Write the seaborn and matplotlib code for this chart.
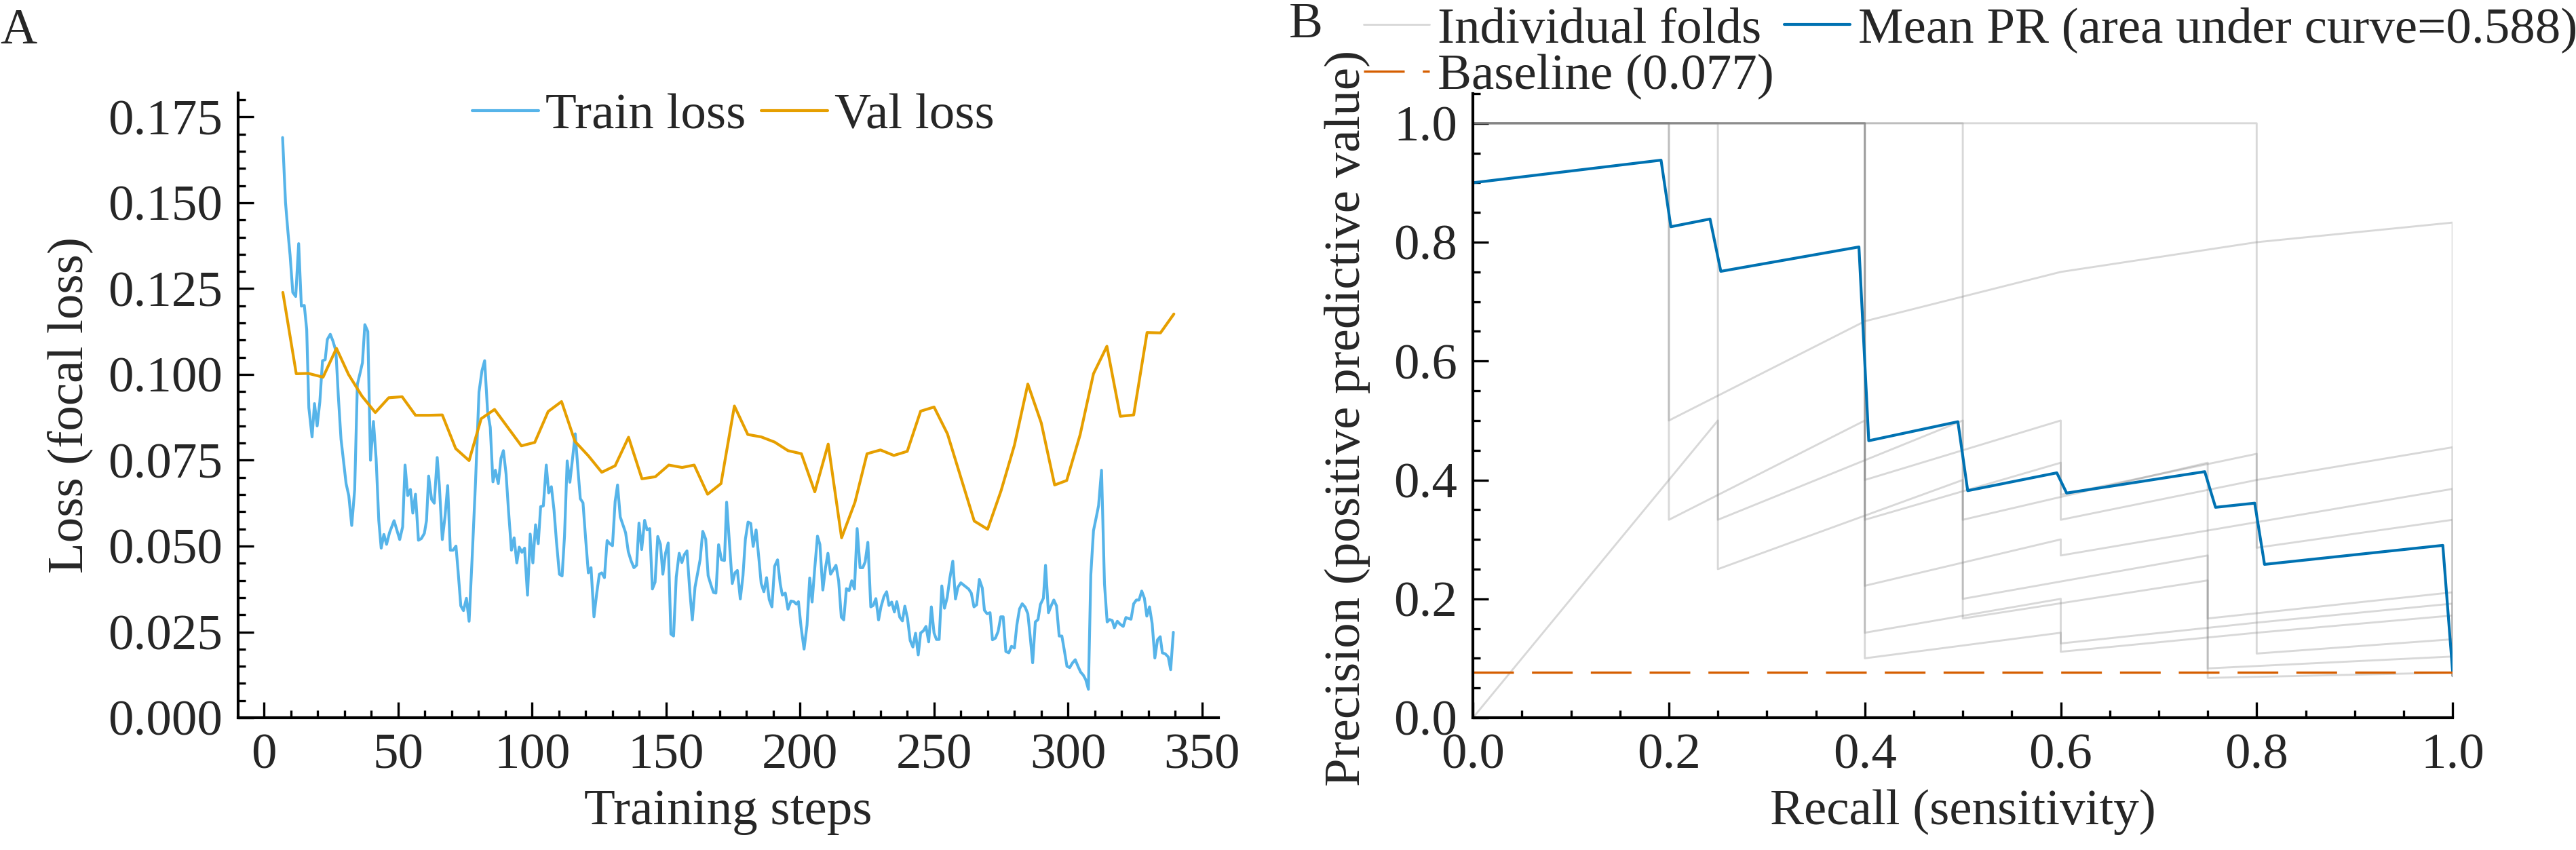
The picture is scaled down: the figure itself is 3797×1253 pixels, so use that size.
import matplotlib
matplotlib.use('Agg')
import matplotlib.pyplot as plt
from matplotlib.lines import Line2D
from matplotlib.ticker import MultipleLocator, FormatStrFormatter
import pandas as pd
import seaborn as sns

# Values
train_steps = [
    6.9, 8.0, 8.9, 9.7, 10.7, 11.8, 12.9, 13.9, 15.0, 15.9, 16.7, 17.9, 18.8, 19.8, 20.8,
    21.8, 22.8, 23.6, 24.7, 25.7, 26.8, 27.7, 28.7, 29.7, 30.6, 31.6, 32.7, 33.8, 34.8, 35.7,
    36.7, 37.6, 38.7, 39.7, 40.8, 41.8, 42.8, 43.7, 44.7, 45.7, 46.8, 48.5, 49.6, 50.6, 51.7,
    52.6, 53.6, 54.6, 55.5, 56.5, 57.6, 58.7, 59.8, 60.6, 61.4, 62.5, 63.5, 64.6, 65.4, 66.5,
    67.5, 68.5, 69.5, 70.5, 71.6, 72.4, 73.4, 74.4, 75.5, 76.5, 77.6, 78.9, 80.2, 81.3, 82.3,
    83.4, 84.4, 85.4, 86.3, 87.4, 88.4, 89.3, 90.3, 91.2, 92.3, 93.3, 94.3, 95.2, 96.2, 97.2,
    98.3, 99.3, 100.3, 101.3, 102.3, 103.2, 104.2, 105.3, 106.2, 107.2, 108.2, 109.1, 110.2,
    111.2, 112.1, 113.1, 114.1, 115.1, 116.1, 117.1, 118.0, 119.0, 120.0, 121.0, 122.0, 123.1,
    124.1, 125.1, 126.0, 127.0, 128.0, 129.0, 130.0, 131.0, 131.9, 132.9, 133.9, 134.9, 135.9,
    136.9, 138.0, 139.0, 139.9, 140.9, 142.0, 142.9, 143.9, 144.9, 145.9, 146.9, 147.9, 148.8,
    149.8, 150.8, 151.8, 152.8, 153.8, 154.9, 155.9, 156.8, 157.8, 158.9, 159.8, 160.8, 161.8,
    162.7, 163.7, 164.8, 165.7, 166.7, 167.7, 168.6, 169.6, 170.7, 171.8, 172.6, 173.7, 174.7,
    175.7, 176.6, 177.7, 178.7, 179.6, 180.6, 181.6, 182.5, 183.6, 184.6, 185.5, 186.5, 187.5,
    188.5, 189.5, 190.5, 191.6, 192.6, 193.4, 194.5, 195.5, 196.6, 197.7, 198.6, 199.4, 200.4,
    201.5, 202.6, 203.6, 204.5, 205.5, 206.5, 207.4, 208.5, 209.5, 210.4, 211.4, 212.4, 213.4,
    214.4, 215.4, 216.3, 217.3, 218.3, 219.3, 220.3, 221.3, 222.4, 223.4, 224.3, 225.3, 226.4,
    227.3, 228.3, 229.3, 230.2, 231.3, 232.3, 233.2, 234.2, 235.2, 236.1, 237.2, 238.2, 239.1,
    240.1, 241.1, 242.1, 243.1, 244.1, 245.0, 246.0, 247.0, 248.0, 249.0, 250.0, 250.9, 251.9,
    252.9, 253.9, 254.9, 255.9, 257.0, 258.0, 258.9, 260.0, 261.8, 262.9, 263.9, 264.9, 265.9,
    266.9, 268.0, 268.8, 269.8, 270.9, 271.8, 272.9, 273.9, 274.9, 275.8, 276.8, 277.9, 278.9,
    280.0, 280.9, 281.9, 282.9, 284.0, 285.0, 286.0, 286.8, 287.8, 288.8, 289.7, 290.8, 291.6,
    292.7, 293.7, 294.7, 295.7, 296.7, 297.7, 298.6, 299.6, 300.6, 301.7, 302.7, 303.7, 304.7,
    305.7, 306.6, 307.6, 308.5, 309.5, 310.4, 311.4, 312.5, 313.6, 314.6, 315.5, 316.5, 317.3,
    318.4, 319.5, 320.6, 321.6, 322.6, 323.5, 324.5, 325.5, 326.5, 327.5, 328.5, 329.4, 330.4,
    331.4, 332.4, 333.4, 334.4, 335.2, 336.3, 337.4, 338.3, 339.3,
]
train_loss = [
    0.1690, 0.1500, 0.1415, 0.1347, 0.1239, 0.1227, 0.1381, 0.1199, 0.1201, 0.1131, 0.0903,
    0.0818, 0.0915, 0.0850, 0.0920, 0.1040, 0.1043, 0.1102, 0.1117, 0.1097, 0.1068, 0.0937,
    0.0812, 0.0744, 0.0682, 0.0647, 0.0560, 0.0664, 0.0971, 0.1000, 0.1034, 0.1145, 0.1125,
    0.0750, 0.0863, 0.0755, 0.0574, 0.0494, 0.0534, 0.0505, 0.0539, 0.0574, 0.0545, 0.0519,
    0.0556, 0.0736, 0.0647, 0.0665, 0.0596, 0.0651, 0.0517, 0.0522, 0.0537, 0.0574, 0.0704,
    0.0636, 0.0625, 0.0758, 0.0676, 0.0519, 0.0585, 0.0676, 0.0488, 0.0488, 0.0500, 0.0426,
    0.0326, 0.0312, 0.0348, 0.0281, 0.0460, 0.0687, 0.0949, 0.1011, 0.1040, 0.0892, 0.0846,
    0.0687, 0.0721, 0.0682, 0.0756, 0.0778, 0.0710, 0.0604, 0.0488, 0.0524, 0.0451, 0.0497,
    0.0482, 0.0494, 0.0357, 0.0535, 0.0451, 0.0562, 0.0507, 0.0615, 0.0617, 0.0736, 0.0655,
    0.0673, 0.0604, 0.0513, 0.0418, 0.0413, 0.0528, 0.0748, 0.0686, 0.0755, 0.0827, 0.0725,
    0.0638, 0.0626, 0.0520, 0.0422, 0.0437, 0.0294, 0.0361, 0.0418, 0.0422, 0.0408, 0.0516,
    0.0507, 0.0501, 0.0630, 0.0678, 0.0585, 0.0562, 0.0539, 0.0484, 0.0458, 0.0437, 0.0444,
    0.0567, 0.0490, 0.0575, 0.0547, 0.0551, 0.0375, 0.0395, 0.0528, 0.0505, 0.0418, 0.0479,
    0.0509, 0.0244, 0.0238, 0.0410, 0.0479, 0.0452, 0.0475, 0.0486, 0.0365, 0.0285, 0.0380,
    0.0422, 0.0460, 0.0543, 0.0520, 0.0414, 0.0388, 0.0365, 0.0363, 0.0504, 0.0460, 0.0458,
    0.0628, 0.0505, 0.0391, 0.0422, 0.0429, 0.0346, 0.0414, 0.0520, 0.0570, 0.0566, 0.0499,
    0.0547, 0.0467, 0.0391, 0.0367, 0.0408, 0.0344, 0.0323, 0.0441, 0.0460, 0.0390, 0.0357,
    0.0363, 0.0316, 0.0340, 0.0338, 0.0331, 0.0338, 0.0263, 0.0200, 0.0270, 0.0407, 0.0337,
    0.0437, 0.0529, 0.0505, 0.0372, 0.0437, 0.0479, 0.0418, 0.0431, 0.0444, 0.0399, 0.0293,
    0.0285, 0.0376, 0.0370, 0.0399, 0.0375, 0.0551, 0.0437, 0.0437, 0.0454, 0.0511, 0.0323,
    0.0327, 0.0347, 0.0285, 0.0323, 0.0353, 0.0367, 0.0327, 0.0337, 0.0308, 0.0338, 0.0293,
    0.0282, 0.0325, 0.0289, 0.0225, 0.0206, 0.0246, 0.0183, 0.0247, 0.0253, 0.0266, 0.0221,
    0.0323, 0.0247, 0.0228, 0.0228, 0.0384, 0.0319, 0.0350, 0.0407, 0.0456, 0.0346, 0.0380,
    0.0393, 0.0382, 0.0375, 0.0363, 0.0323, 0.0329, 0.0403, 0.0378, 0.0313, 0.0303, 0.0306,
    0.0227, 0.0232, 0.0251, 0.0294, 0.0294, 0.0193, 0.0189, 0.0208, 0.0203, 0.0270, 0.0317,
    0.0332, 0.0322, 0.0303, 0.0227, 0.0160, 0.0279, 0.0286, 0.0330, 0.0348, 0.0444, 0.0306,
    0.0326, 0.0343, 0.0326, 0.0238, 0.0238, 0.0197, 0.0150, 0.0146, 0.0160, 0.0169, 0.0150,
    0.0133, 0.0124, 0.0111, 0.0083, 0.0416, 0.0545, 0.0579, 0.0618, 0.0721, 0.0390, 0.0279,
    0.0286, 0.0283, 0.0262, 0.0281, 0.0272, 0.0266, 0.0292, 0.0289, 0.0287, 0.0332, 0.0343,
    0.0343, 0.0369, 0.0348, 0.0296, 0.0323, 0.0274, 0.0174, 0.0227, 0.0236, 0.0189, 0.0186,
    0.0177, 0.0140, 0.0249,
]

val_steps = [
    7, 12, 16.5, 22, 27, 31.5, 36.5, 41.5, 46.5, 51.5, 56.5, 61.5, 66.5, 71.5, 76.5, 81, 86,
    91, 96, 101, 106, 111, 116, 121, 126, 131, 136, 141, 146, 151, 156, 160.5, 165.5, 170.5,
    175.5, 180.5, 185.5, 190.5, 195.5, 200.5, 205.5, 210.5, 215.5, 220.5, 225, 230, 235, 240,
    245, 250, 255, 260, 265, 270, 275, 280, 285, 290, 295, 299.5, 304.5, 309.5, 314.5, 319.5,
    324.5, 329.5, 334.5, 339.5,
]
val_loss = [
    0.1239, 0.1002, 0.1003, 0.0992, 0.1076, 0.1000, 0.0937, 0.0889, 0.0932, 0.0935, 0.0881,
    0.0881, 0.0882, 0.0784, 0.0749, 0.0871, 0.0898, 0.0845, 0.0792, 0.0802, 0.0892, 0.0921,
    0.0805, 0.0763, 0.0715, 0.0734, 0.0817, 0.0696, 0.0702, 0.0736, 0.0729, 0.0736, 0.0651,
    0.0682, 0.0908, 0.0825, 0.0818, 0.0803, 0.0778, 0.0769, 0.0658, 0.0797, 0.0524, 0.0628,
    0.0769, 0.0780, 0.0764, 0.0776, 0.0893, 0.0905, 0.0827, 0.0700, 0.0573, 0.0549, 0.0661,
    0.0794, 0.0972, 0.0859, 0.0678, 0.0691, 0.0824, 0.1002, 0.1082, 0.0878, 0.0882, 0.1122,
    0.1121, 0.1176,
]

# per-fold PR curves (recall, precision vertices)
fold_recall = [
    [0, 0.2, 0.2, 0.4, 0.6, 0.8, 1.0, 1.0],
    [0, 0.8, 0.8, 1.0, 1.0],
    [0, 0.2, 0.2, 0.4, 0.4, 0.6, 0.6, 0.8, 1.0, 1.0],
    [0, 0.25, 0.25, 0.5, 0.5, 0.75, 0.75, 1.0, 1.0],
    [0, 0.25, 0.25, 0.5, 0.5, 0.75, 0.75, 1.0, 1.0],
    [0, 0.5, 0.5, 0.75, 0.75, 1.0, 1.0],
    [0, 0.4, 0.4, 0.6, 0.6, 1.0, 1.0],
    [0, 0.4, 0.4, 0.6, 0.6, 0.8, 1.0, 1.0],
    [0, 0.4, 0.4, 0.6, 0.6, 0.8, 1.0, 1.0],
    [0, 0.4, 0.4, 0.6, 0.6, 0.8, 0.8, 1.0, 1.0],
]
fold_precision = [
    [1, 1, 0.5, 0.667, 0.75, 0.8, 0.833, 0.07],
    [1, 1, 0.108, 0.132, 0.07],
    [1, 1, 0.333, 0.5, 0.4, 0.5, 0.333, 0.4, 0.455, 0.07],
    [1, 1, 0.333, 0.5, 0.333, 0.429, 0.067, 0.076, 0.07],
    [0, 0.5, 0.25, 0.4, 0.2, 0.273, 0.167, 0.211, 0.07],
    [1, 1, 0.167, 0.231, 0.083, 0.103, 0.07],
    [1, 1, 0.222, 0.3, 0.273, 0.385, 0.07],
    [1, 1, 0.143, 0.2, 0.125, 0.16, 0.192, 0.07],
    [1, 1, 0.1, 0.143, 0.111, 0.143, 0.172, 0.07],
    [1, 1, 0.333, 0.429, 0.375, 0.444, 0.286, 0.333, 0.07],
]

mean_recall = [0, 0.192, 0.202, 0.242, 0.253, 0.394, 0.404, 0.495, 0.505, 0.596, 0.606,
               0.747, 0.758, 0.798, 0.808, 0.990, 1.0]
mean_precision = [0.900, 0.938, 0.826, 0.839, 0.751, 0.792, 0.466, 0.498, 0.382, 0.412, 0.378,
                  0.414, 0.354, 0.361, 0.258, 0.290, 0.078]
pr_auc = 0.588
baseline = 0.077

C_TRAIN = '#56B4E9'
C_VAL = '#E69F00'
C_MEAN = '#0072B2'
C_BASE = '#D55E00'

sns.set_theme(style='ticks')
plt.rcParams['font.family'] = ['Liberation Serif', 'DejaVu Serif']
plt.rcParams['font.size'] = 18

fig = plt.figure(figsize=(3797 / 300, 1253 / 300), dpi=300)
ax1 = fig.add_axes([0.0924, 0.1556, 0.3806, 0.7351])
ax2 = fig.add_axes([0.5718, 0.1556, 0.3803, 0.7343])

# --- A: loss curves ---
sns.lineplot(x=train_steps, y=train_loss, ax=ax1, color=C_TRAIN, lw=1.0,
             estimator=None, sort=False, label='Train loss')
sns.lineplot(x=val_steps, y=val_loss, ax=ax1, color=C_VAL, lw=1.0,
             estimator=None, sort=False, label='Val loss')
ax1.set_ylim(0, 0.182)
ax1.xaxis.set_major_locator(MultipleLocator(50))
ax1.xaxis.set_minor_locator(MultipleLocator(10))
ax1.yaxis.set_major_locator(MultipleLocator(0.025))
ax1.yaxis.set_minor_locator(MultipleLocator(0.005))
ax1.yaxis.set_major_formatter(FormatStrFormatter('%.3f'))
ax1.set_xlabel('Training steps', fontsize=18)
ax1.set_ylabel('Loss (focal loss)', fontsize=18)
ax1.legend(loc='upper center', bbox_to_anchor=(0.505, 1.0), ncol=2, frameon=False,
           fontsize=18, handlelength=1.31, handletextpad=0.13, columnspacing=0.3,
           borderpad=0, borderaxespad=0)

# --- B: precision-recall ---
folds = pd.DataFrame({
    'recall': [r for f in fold_recall for r in f],
    'precision': [p for f in fold_precision for p in f],
    'fold': [i for i, f in enumerate(fold_recall) for _ in f],
})
sns.lineplot(data=folds, x='recall', y='precision', units='fold', estimator=None,
             sort=False, color='gray', alpha=0.3, lw=0.7, ax=ax2)
sns.lineplot(x=mean_recall, y=mean_precision, ax=ax2, color=C_MEAN, lw=1.0,
             estimator=None, sort=False)
ax2.axhline(baseline, color=C_BASE, lw=0.8, dashes=(18, 8))
ax2.set_xlim(0, 1)
ax2.set_ylim(0, 1.05)
ax2.xaxis.set_major_locator(MultipleLocator(0.2))
ax2.xaxis.set_minor_locator(MultipleLocator(0.05))
ax2.yaxis.set_major_locator(MultipleLocator(0.2))
ax2.yaxis.set_minor_locator(MultipleLocator(0.05))
ax2.xaxis.set_major_formatter(FormatStrFormatter('%.1f'))
ax2.yaxis.set_major_formatter(FormatStrFormatter('%.1f'))
ax2.set_xlabel('Recall (sensitivity)', fontsize=18)
ax2.set_ylabel('Precision (positive predictive value)', fontsize=18)

handles = [
    Line2D([], [], color='gray', alpha=0.3, lw=0.7),
    Line2D([], [], color=C_BASE, lw=0.8, dashes=(18, 8)),
    Line2D([], [], color=C_MEAN, lw=1.0),
]
labels = ['Individual folds', f'Baseline ({baseline:.3f})',
          f'Mean PR (area under curve={pr_auc:.3f})']
ax2.legend(handles, labels, loc='lower center', bbox_to_anchor=(0.508, 0.99), ncol=2,
           frameon=False, fontsize=18, handlelength=1.3, handletextpad=0.16,
           columnspacing=0.2, labelspacing=0.0, borderpad=0, borderaxespad=0)

for ax in (ax1, ax2):
    sns.despine(ax=ax)
    for side in ('left', 'bottom'):
        ax.spines[side].set_linewidth(1.0)
        ax.spines[side].set_color('black')
    ax.tick_params(which='both', direction='in', width=0.8, color='black',
                   labelsize=18, pad=5.5, top=False, right=False)
    ax.tick_params(which='major', length=5.6)
    ax.tick_params(which='minor', length=2.7)
    ax.xaxis.set_label_coords(0.5, -0.115)

ax1.yaxis.set_label_coords(-0.148, 0.5)
ax2.yaxis.set_label_coords(-0.105, 0.48)

fig.text(0.0, 0.99, 'A', fontsize=18, ha='left', va='top')
fig.text(0.5004, 0.997, 'B', fontsize=18, ha='left', va='top')

fig.savefig('out.png', dpi=300)
